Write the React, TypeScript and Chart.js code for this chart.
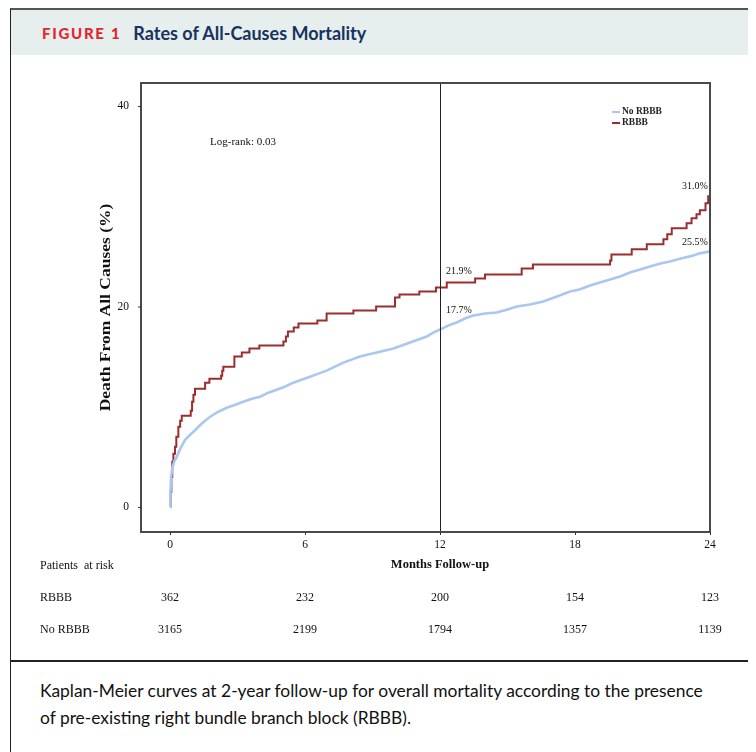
import React, { useEffect, useRef } from "react";
import { Chart, registerables } from "chart.js";

Chart.register(...registerables);

// RBBB Kaplan-Meier (month, cumulative death %)
const rbbbMonths = [0, 0.03, 0.06, 0.1, 0.15, 0.22, 0.28, 0.37, 0.45, 0.52, 0.92, 0.98, 1.04, 1.11, 1.56, 1.75, 2.27, 2.32, 2.37, 2.86, 3.19, 3.53, 3.97, 5.04, 5.15, 5.24, 5.5, 5.71, 6.55, 6.96, 8.15, 9.16, 10.0, 10.2, 11.08, 11.82, 12.3, 13.56, 14.0, 15.63, 16.13, 19.56, 19.62, 20.52, 21.19, 21.93, 22.1, 22.3, 22.96, 23.18, 23.4, 23.55, 23.8, 23.92, 24.0];
const rbbbValues = [0, 1.5, 3.0, 4.5, 5.3, 6.0, 7.0, 8.0, 8.6, 9.1, 9.6, 10.5, 11.2, 11.8, 12.4, 12.8, 13.1, 13.6, 14.0, 15.0, 15.4, 15.8, 16.1, 16.5, 17.0, 17.5, 17.9, 18.3, 18.6, 19.3, 19.6, 20.0, 20.9, 21.2, 21.5, 21.9, 22.4, 22.8, 23.2, 23.8, 24.2, 24.6, 25.2, 25.7, 26.2, 26.7, 27.2, 27.8, 28.3, 28.8, 29.2, 29.6, 30.3, 31.0, 31.0];

// No RBBB Kaplan-Meier
const noRbbbMonths = [0, 0.02, 0.05, 0.1, 0.2, 0.3, 0.45, 0.67, 0.85, 1.04, 1.4, 1.78, 2.15, 2.52, 2.9, 3.26, 3.63, 4.0, 4.37, 4.74, 5.1, 5.48, 5.85, 6.22, 6.6, 6.96, 7.33, 7.7, 8.07, 8.44, 8.8, 9.19, 9.56, 9.93, 10.3, 10.67, 11.04, 11.41, 11.7, 12.0, 12.37, 12.74, 13.1, 13.48, 14.0, 14.52, 15.0, 15.41, 16.0, 16.59, 17.2, 17.78, 18.2, 18.67, 19.1, 19.56, 20.0, 20.44, 20.9, 21.33, 21.8, 22.22, 22.7, 23.11, 23.55, 24.0];
const noRbbbValues = [0, 1.5, 3.0, 3.9, 4.6, 5.0, 5.8, 6.7, 7.1, 7.5, 8.3, 9.0, 9.5, 9.9, 10.2, 10.5, 10.8, 11.0, 11.4, 11.7, 12.0, 12.4, 12.7, 13.0, 13.3, 13.6, 14.0, 14.4, 14.7, 15.0, 15.2, 15.4, 15.6, 15.8, 16.1, 16.4, 16.7, 17.0, 17.4, 17.7, 18.1, 18.4, 18.8, 19.1, 19.3, 19.4, 19.7, 20.0, 20.2, 20.5, 21.0, 21.5, 21.7, 22.1, 22.4, 22.7, 23.0, 23.4, 23.7, 24.0, 24.3, 24.5, 24.8, 25.0, 25.3, 25.5];

const xTicks = [0, 6, 12, 18, 24];
const yTicks = [0, 20, 40];
const riskRbbb = ["362", "232", "200", "154", "123"];
const riskNoRbbb = ["3165", "2199", "1794", "1357", "1139"];
const seriesNames = ["No RBBB", "RBBB"];
const logRankText = "Log-rank: 0.03";
const pctLabels12 = ["21.9%", "17.7%"];
const pctLabels24 = ["31.0%", "25.5%"];

const RED = "#9a2e2e";
const BLUE = "#a9c7ef";
const SERIF = "'Liberation Serif', 'Times New Roman', serif";

const overlay = {
  id: "kmOverlay",
  afterDatasetsDraw(chart: any) {
    const { ctx, chartArea: a, scales } = chart;
    const xs = scales.x;
    const ys = scales.y;
    ctx.save();
    // vertical line at 12 months
    const x12 = xs.getPixelForValue(12);
    ctx.strokeStyle = "#222";
    ctx.lineWidth = 1;
    ctx.beginPath();
    ctx.moveTo(x12 + 0.5, a.top);
    ctx.lineTo(x12 + 0.5, a.bottom);
    ctx.stroke();

    // frame
    ctx.strokeStyle = "#4a4a4a";
    ctx.lineWidth = 2;
    ctx.strokeRect(a.left, a.top, a.right - a.left, a.bottom - a.top);

    ctx.fillStyle = "#111";
    ctx.strokeStyle = "#333";
    ctx.lineWidth = 1;
    // y ticks
    ctx.font = `11.5px ${SERIF}`;
    ctx.textAlign = "right";
    ctx.textBaseline = "middle";
    yTicks.forEach((v) => {
      const py = ys.getPixelForValue(v);
      ctx.beginPath();
      ctx.moveTo(a.left - 3, py + 0.5);
      ctx.lineTo(a.left, py + 0.5);
      ctx.stroke();
      ctx.fillText(String(v), a.left - 12, py);
    });
    // x ticks
    ctx.textAlign = "center";
    ctx.textBaseline = "middle";
    xTicks.forEach((v) => {
      const px = xs.getPixelForValue(v);
      ctx.beginPath();
      ctx.moveTo(px + 0.5, a.bottom);
      ctx.lineTo(px + 0.5, a.bottom + 3);
      ctx.stroke();
      ctx.fillText(String(v), px, a.bottom + 13);
    });

    // axis titles
    ctx.font = `bold 12.5px ${SERIF}`;
    ctx.fillText("Months Follow-up", x12, a.bottom + 33);
    ctx.save();
    ctx.translate(96, (a.top + a.bottom) / 2);
    ctx.rotate(-Math.PI / 2);
    ctx.scale(1, 0.8);
    ctx.font = `bold 17.5px ${SERIF}`;
    ctx.fillText("Death From All Causes (%)", 0, 0);
    ctx.restore();

    // annotations
    ctx.font = `11px ${SERIF}`;
    ctx.textAlign = "left";
    ctx.fillText(logRankText, xs.getPixelForValue(1.78), ys.getPixelForValue(36.4));
    ctx.font = `10px ${SERIF}`;
    ctx.fillText(pctLabels12[0], xs.getPixelForValue(12.27), ys.getPixelForValue(23.5));
    ctx.fillText(pctLabels12[1], xs.getPixelForValue(12.27), ys.getPixelForValue(19.6));
    ctx.textAlign = "right";
    ctx.fillText(pctLabels24[0], xs.getPixelForValue(23.9), ys.getPixelForValue(32.0));
    ctx.fillText(pctLabels24[1], xs.getPixelForValue(23.9), ys.getPixelForValue(26.4));

    // legend
    const lx = 602;
    const lys = [57, 68];
    const lcol = [BLUE, RED];
    ctx.font = `bold 9.5px ${SERIF}`;
    ctx.textAlign = "left";
    seriesNames.forEach((n, i) => {
      ctx.strokeStyle = lcol[i];
      ctx.lineWidth = 2;
      ctx.beginPath();
      ctx.moveTo(lx, lys[i]);
      ctx.lineTo(lx + 8, lys[i]);
      ctx.stroke();
      ctx.fillStyle = "#222";
      ctx.fillText(n, lx + 10, lys[i]);
    });

    // patients at risk
    ctx.fillStyle = "#111";
    ctx.font = `12px ${SERIF}`;
    ctx.textAlign = "left";
    ctx.fillText("Patients  at risk", 30, a.bottom + 34);
    ctx.fillText("RBBB", 30, a.bottom + 66);
    ctx.fillText("No RBBB", 30, a.bottom + 98);
    ctx.textAlign = "center";
    xTicks.forEach((v, i) => {
      const px = xs.getPixelForValue(v);
      ctx.fillText(riskRbbb[i], px, a.bottom + 66);
      ctx.fillText(riskNoRbbb[i], px, a.bottom + 98);
    });
    ctx.restore();
  },
};

function KMChart() {
  const ref = useRef<HTMLCanvasElement>(null);
  useEffect(() => {
    if (!ref.current) return;
    const chart = new Chart(ref.current, {
      type: "line",
      data: {
        datasets: [
          {
            label: seriesNames[0],
            data: noRbbbMonths.map((m, i) => ({ x: m, y: noRbbbValues[i] })),
            borderColor: BLUE,
            borderWidth: 2.6,
            pointRadius: 0,
            tension: 0,
            fill: false,
          },
          {
            label: seriesNames[1],
            data: rbbbMonths.map((m, i) => ({ x: m, y: rbbbValues[i] })),
            borderColor: RED,
            borderWidth: 2,
            pointRadius: 0,
            stepped: "before",
            fill: false,
          },
        ],
      },
      options: {
        animation: false,
        responsive: false,
        maintainAspectRatio: false,
        layout: { padding: { left: 131, top: 28, right: 39, bottom: 129 } },
        plugins: { legend: { display: false }, tooltip: { enabled: false } },
        scales: {
          x: { type: "linear", min: -1.29, max: 24, display: false },
          y: { type: "linear", min: -2.5, max: 42.3, display: false },
        },
      },
      plugins: [overlay],
    });
    return () => chart.destroy();
  }, []);
  return <canvas ref={ref} width={739} height={606} style={{ display: "block", width: 739, height: 606 }} />;
}

export default function App() {
  return (
    <div style={{ position: "relative", width: 748, height: 744 }}>
      <div
        style={{
          position: "absolute",
          left: 2,
          top: 0,
          width: 740,
          height: 760,
          boxSizing: "border-box",
          borderLeft: "1px solid #222",
          borderRight: "1px solid #222",
          borderTop: "2px solid #555",
        }}
      />
      <div
        style={{
          position: "absolute",
          left: 3,
          top: 2,
          width: 738,
          height: 45,
          background: "#e6eeee",
          display: "flex",
          alignItems: "center",
          fontFamily: "Lato, 'Open Sans', sans-serif",
          fontWeight: 700,
        }}
      >
        <span style={{ marginLeft: 31, color: "#e3262f", fontSize: 15, letterSpacing: 1.7, fontWeight: 900 }}>FIGURE 1</span>
        <span style={{ marginLeft: 12, color: "#17335e", fontSize: 18 }}>Rates of All-Causes Mortality</span>
      </div>
      <div style={{ position: "absolute", left: 2, top: 47 }}>
        <KMChart />
      </div>
      <div style={{ position: "absolute", left: 2, top: 652, width: 740, height: 2, background: "#222" }} />
      <div
        style={{
          position: "absolute",
          left: 32,
          top: 669,
          width: 710,
          fontFamily: "Lato, 'Open Sans', sans-serif",
          fontSize: 17.4,
          lineHeight: "27px",
          color: "#111",
        }}
      >
        Kaplan-Meier curves at 2-year follow-up for overall mortality according to the presence
        <br />
        of pre-existing right bundle branch block (RBBB).
      </div>
    </div>
  );
}
